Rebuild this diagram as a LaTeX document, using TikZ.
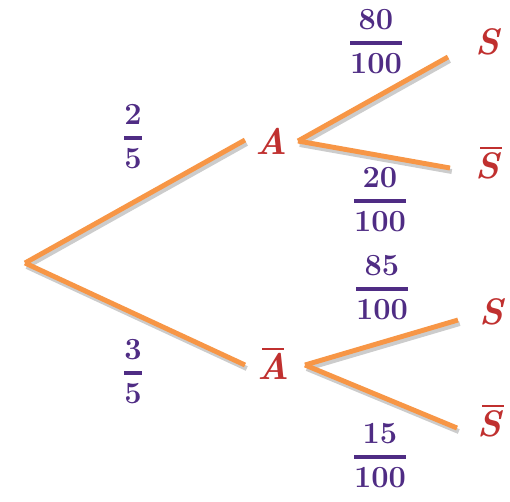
\RequirePackage{fix-cm}
\documentclass[tikz,border=0pt]{standalone}
\usepackage{amsmath}
\usepackage{xcolor}
\definecolor{BranchOrange}{HTML}{F79646}
\definecolor{ProbPurple}{HTML}{4F2C84}
\definecolor{EventRed}{HTML}{C0302F}
\usetikzlibrary{positioning}
\newcommand{\prob}[2]{$\genfrac{}{}{1.8pt}{0}{\mathbf{#1}}{\mathbf{#2}}$}
\newcommand{\evt}[1]{\textbf{\textit{#1}}}
\newcommand{\evtbar}[1]{\makebox[0pt][l]{\kern0.14em\rule[0.8em]{0.6em}{1.3pt}}\evt{#1}}

\begin{document}
\begin{tikzpicture}[x=0.02cm, y=-0.02cm,
    branch/.style={draw=BranchOrange, line width=2.8pt,
      preaction={draw=gray!40, line width=2.8pt, transform canvas={shift={(1pt,-2pt)}}}},
    event/.style={font=\fontsize{21}{25}\selectfont, text=EventRed},
    prob/.style={font=\fontsize{17.5}{21}\selectfont, text=ProbPurple}]
  \useasboundingbox (0,0) rectangle (510,501);
  % first level
  \coordinate (root) at (25,263);
  \node[event] (A)  at (271,141) {\evt{A}};
  \node[event] (Ab) at (273,364) {\evtbar{A}};
  \coordinate (A-in)   at (245,140);
  \coordinate (A-out)  at (298,141);
  \coordinate (Ab-in)  at (245,365);
  \coordinate (Ab-out) at (305,365);
  \draw[branch] (root) -- (A-in);
  \draw[branch] (root) -- (Ab-in);
    \node[prob] (pA)  at (133,137) {\prob{2}{5}};
    \node[prob] (pAb) at (133,372) {\prob{3}{5}};
  % second level
  \node[event] (S1)  at (488,42)  {\evt{S}};
  \node[event] (S1b) at (488,163) {\evtbar{S}};
  \node[event] (S2)  at (492,312) {\evt{S}};
  \node[event] (S2b) at (490,421) {\evtbar{S}};
  \coordinate (S1-in)  at (448,57);
  \coordinate (S1b-in) at (450,168);
  \coordinate (S2-in)  at (458,320);
  \coordinate (S2b-in) at (457,428);
  \draw[branch] (A-out) -- (S1-in);
  \draw[branch] (A-out) -- (S1b-in);
  \draw[branch] (Ab-out) -- (S2-in);
  \draw[branch] (Ab-out) -- (S2b-in);
    \node[prob] (pS1)  at (376,42)  {\prob{80}{100}};
    \node[prob] (pS1b) at (380,200) {\prob{20}{100}};
    \node[prob] (pS2)  at (382,288) {\prob{85}{100}};
    \node[prob] (pS2b) at (380,456) {\prob{15}{100}};
\end{tikzpicture}
\end{document}
